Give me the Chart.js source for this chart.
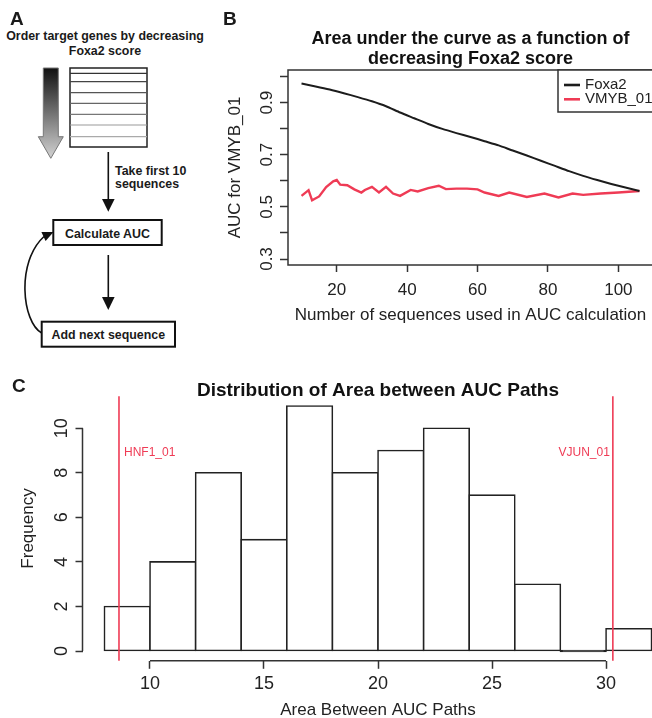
<!DOCTYPE html>
<html>
<head>
<meta charset="utf-8">
<script src="https://cdn.jsdelivr.net/npm/chart.js@4.4.1/dist/chart.umd.min.js"></script>
<style>
  html, body { margin: 0; padding: 0; background: #fff; }
  #wrap { position: relative; width: 652px; height: 718px; overflow: hidden; background: #fff; }
  #panelA { position: absolute; left: 0; top: 0; }
  #chartB { position: absolute; left: 220px; top: 0; }
  #chartC { position: absolute; left: 0; top: 360px; }
  #tags { position: absolute; left: 0; top: 0; pointer-events: none; }
  svg text { font-family: "Liberation Sans", Arial, sans-serif; fill: #1a1a1a; }
</style>
</head>
<body>
<div id="wrap">
  <svg id="panelA" width="220" height="360">
    <defs>
      <linearGradient id="fade" x1="0" y1="0" x2="0" y2="1">
        <stop offset="0" stop-color="#111"/>
        <stop offset="0.7" stop-color="#999"/>
        <stop offset="1" stop-color="#d2d2d2"/>
      </linearGradient>
    </defs>
    <text x="105" y="40" text-anchor="middle" font-size="12.4" font-weight="bold">Order target genes by decreasing</text>
    <text x="105" y="55" text-anchor="middle" font-size="12.4" font-weight="bold">Foxa2 score</text>
    <path d="M43.3 68 H58.3 V136.7 H63.3 L50.8 158.3 L38.3 136.7 H43.3 Z" fill="url(#fade)" stroke="#777" stroke-width="1"/>
    <rect x="70" y="68" width="77" height="79" fill="#fff" stroke="#222" stroke-width="1.5"/>
    <g stroke-width="1.2">
      <line x1="70" x2="147" y1="73.3" y2="73.3" stroke="#333"/>
      <line x1="70" x2="147" y1="81.7" y2="81.7" stroke="#444"/>
      <line x1="70" x2="147" y1="92.7" y2="92.7" stroke="#555"/>
      <line x1="70" x2="147" y1="103.3" y2="103.3" stroke="#666"/>
      <line x1="70" x2="147" y1="114.3" y2="114.3" stroke="#777"/>
      <line x1="70" x2="147" y1="125" y2="125" stroke="#999"/>
      <line x1="70" x2="147" y1="136.7" y2="136.7" stroke="#aaa"/>
    </g>
    <line x1="108.3" x2="108.3" y1="152" y2="200" stroke="#111" stroke-width="1.6"/>
    <polygon points="102,199 114.6,199 108.3,211.7" fill="#111"/>
    <text x="115" y="175" font-size="12.4" font-weight="bold">Take first 10</text>
    <text x="115" y="188" font-size="12.4" font-weight="bold">sequences</text>
    <rect x="53.3" y="220" width="108.4" height="25" fill="#fff" stroke="#111" stroke-width="2"/>
    <text x="107.5" y="237.5" text-anchor="middle" font-size="12.4" font-weight="bold">Calculate AUC</text>
    <line x1="108.3" x2="108.3" y1="255" y2="298" stroke="#111" stroke-width="1.6"/>
    <polygon points="102,297 114.6,297 108.3,310" fill="#111"/>
    <rect x="41.7" y="321.7" width="133.3" height="25" fill="#fff" stroke="#111" stroke-width="2"/>
    <text x="108.3" y="339" text-anchor="middle" font-size="12.4" font-weight="bold">Add next sequence</text>
    <path d="M41.7 333 C22 322, 16 262, 44 236.5" fill="none" stroke="#111" stroke-width="1.6"/>
    <polygon points="53.5,232 45.6,241.1 41.4,232.1" fill="#111"/>
  </svg>

  <canvas id="chartB" width="440" height="340"></canvas>
  <canvas id="chartC" width="700" height="370"></canvas>

  <svg id="tags" width="652" height="718">
    <text x="10" y="25" font-size="19" font-weight="bold">A</text>
    <text x="223" y="25" font-size="19" font-weight="bold">B</text>
    <text x="12" y="392" font-size="19" font-weight="bold">C</text>
  </svg>
</div>

<script>
// panel B: AUC paths
const foxaCounts = [10, 14, 18, 22, 26, 30, 34, 38, 42, 46, 50, 54, 58, 62, 66, 70, 74, 78, 82, 86, 90, 94, 98, 102, 106];
const foxaAuc = [0.973, 0.962, 0.950, 0.936, 0.921, 0.905, 0.886, 0.862, 0.840, 0.818, 0.799, 0.783, 0.768,
                 0.752, 0.736, 0.716, 0.697, 0.677, 0.657, 0.637, 0.619, 0.603, 0.588, 0.574, 0.561];
const vmybCounts = [10, 12, 13, 15, 17, 19, 20, 21, 23, 25, 27, 28, 30, 32, 34, 36, 38, 41, 43, 46, 49, 51,
                    54, 57, 60, 62, 66, 69, 74, 79, 83, 87, 90, 95, 100, 104, 106];
const vmybAuc = [0.542, 0.564, 0.525, 0.540, 0.576, 0.598, 0.603, 0.585, 0.583, 0.567, 0.555, 0.565, 0.577,
                 0.555, 0.577, 0.551, 0.542, 0.565, 0.559, 0.572, 0.581, 0.568, 0.570, 0.570, 0.567, 0.555,
                 0.542, 0.555, 0.538, 0.551, 0.536, 0.551, 0.546, 0.551, 0.555, 0.559, 0.561];
const seriesNames = ['Foxa2', 'VMYB_01'];
const xTicksB = [20, 40, 60, 80, 100];
const yTicksB = [0.3, 0.4, 0.5, 0.6, 0.7, 0.8, 0.9, 1.0];
const yLabelsB = [0.3, 0.5, 0.7, 0.9];

// panel C: histogram of area between AUC paths
const binEdges = [8, 10, 12, 14, 16, 18, 20, 22, 24, 26, 28, 30, 32];
const binCounts = [2, 4, 8, 5, 11, 8, 9, 10, 7, 3, 0, 1];
const xTicksC = [10, 15, 20, 25, 30];
const yTicksC = [0, 2, 4, 6, 8, 10];
const markerNames = ['HNF1_01', 'VJUN_01'];
const markerValues = [8.64, 30.3];

const FONT = '"Liberation Sans", Arial, Helvetica, sans-serif';
const INK = '#222';
const RED = '#ef3b55';
Chart.defaults.font.family = FONT;
Chart.defaults.color = INK;

const setTicks = list => scale => { scale.ticks = list.map(v => ({value: v})); };

// R style decorations: centred title, rotated y labels, axis lines, legend, marker lines
const rDecor = {
  id: 'rDecor',
  afterDraw(chart, args, o) {
    const {ctx, chartArea: a, scales: {x, y}} = chart;
    ctx.save();
    ctx.fillStyle = '#111';
    ctx.font = 'bold ' + o.titleSize + 'px ' + FONT;
    ctx.textAlign = 'center';
    ctx.textBaseline = 'alphabetic';
    o.title.forEach((t, i) => ctx.fillText(t, (a.left + a.right) / 2, o.titleY + i * o.titleGap));

    ctx.strokeStyle = '#333';
    ctx.lineWidth = 1.5;
    if (o.box) {
      ctx.strokeRect(a.left, a.top, a.right - a.left, a.bottom - a.top);
    } else {
      ctx.beginPath();
      ctx.moveTo(a.left, y.getPixelForValue(o.yLabels[0]));
      ctx.lineTo(a.left, y.getPixelForValue(o.yLabels[o.yLabels.length - 1]));
      ctx.moveTo(x.getPixelForValue(o.xLine[0]), a.bottom);
      ctx.lineTo(x.getPixelForValue(o.xLine[1]), a.bottom);
      ctx.stroke();
    }

    ctx.fillStyle = INK;
    ctx.font = o.tickSize + 'px ' + FONT;
    ctx.textBaseline = 'middle';
    o.yLabels.forEach(v => {
      ctx.save();
      ctx.translate(o.yLabelX, y.getPixelForValue(v));
      ctx.rotate(-Math.PI / 2);
      ctx.fillText(String(v), 0, 0);
      ctx.restore();
    });

    if (o.legend) {
      const L = o.legend;
      ctx.fillStyle = '#fff';
      ctx.fillRect(L.left, a.top, a.right - L.left, L.bottom - a.top);
      ctx.strokeRect(L.left, a.top, a.right - L.left + 2, L.bottom - a.top);
      ctx.font = L.size + 'px ' + FONT;
      ctx.textAlign = 'left';
      chart.data.datasets.forEach((ds, i) => {
        const ly = L.firstY + i * L.gap;
        ctx.strokeStyle = ds.borderColor;
        ctx.lineWidth = 2.6;
        ctx.beginPath();
        ctx.moveTo(L.left + 6, ly);
        ctx.lineTo(L.left + 22, ly);
        ctx.stroke();
        ctx.fillStyle = INK;
        ctx.fillText(ds.label, L.left + 27, ly);
      });
    }

    if (o.markers) {
      ctx.strokeStyle = RED;
      ctx.fillStyle = RED;
      ctx.lineWidth = 1.6;
      ctx.font = '12px ' + FONT;
      o.markers.names.forEach((name, i) => {
        const px = x.getPixelForValue(o.markers.values[i]);
        ctx.beginPath();
        ctx.moveTo(px, a.top);
        ctx.lineTo(px, a.bottom);
        ctx.stroke();
        const right = i === o.markers.names.length - 1;
        ctx.textAlign = right ? 'right' : 'left';
        ctx.fillText(name, px + (right ? -3 : 5), y.getPixelForValue(o.markers.labelAt));
      });
    }
    ctx.restore();
  }
};

const tickGrid = len => ({
  offset: false, drawOnChartArea: false, drawTicks: true, tickLength: len,
  tickColor: '#333', tickWidth: 1.5, color: '#333'
});

new Chart(document.getElementById('chartB'), {
  type: 'line',
  data: {
    datasets: [
      {
        label: seriesNames[0],
        data: foxaCounts.map((n, i) => ({x: n, y: foxaAuc[i]})),
        borderColor: '#1c1c1c', borderWidth: 2, pointRadius: 0, tension: 0.2
      },
      {
        label: seriesNames[1],
        data: vmybCounts.map((n, i) => ({x: n, y: vmybAuc[i]})),
        borderColor: RED, borderWidth: 2.4, pointRadius: 0, tension: 0
      }
    ]
  },
  plugins: [rDecor],
  options: {
    responsive: false,
    animation: false,
    events: [],
    layout: {padding: {top: 70, right: 7, left: 0, bottom: 0}},
    plugins: {
      legend: {display: false},
      tooltip: {enabled: false},
      rDecor: {
        title: ['Area under the curve as a function of', 'decreasing Foxa2 score'],
        titleSize: 18, titleY: 44, titleGap: 19.5,
        box: true, yLabels: yLabelsB, yLabelX: 47, tickSize: 17,
        legend: {left: 338, bottom: 112, firstY: 85, gap: 14.3, size: 15}
      }
    },
    scales: {
      x: {
        type: 'linear', min: 6.16, max: 109.84,
        afterBuildTicks: setTicks(xTicksB),
        afterFit: s => { s.height = 75; },
        grid: tickGrid(7),
        border: {display: false},
        ticks: {font: {size: 17}, color: INK, padding: 8, maxRotation: 0},
        title: {display: true, text: 'Number of sequences used in AUC calculation',
                font: {size: 17}, color: INK, padding: {top: 0, bottom: 14}}
      },
      y: {
        type: 'linear', min: 0.277, max: 1.025,
        afterBuildTicks: setTicks(yTicksB),
        afterFit: s => { s.width = 68; },
        grid: tickGrid(8),
        border: {display: false},
        ticks: {display: false},
        title: {display: true, text: 'AUC for VMYB_01', font: {size: 17}, color: INK,
                padding: {top: 4.8, bottom: 0}}
      }
    }
  }
});

new Chart(document.getElementById('chartC'), {
  type: 'bar',
  data: {
    datasets: [{
      label: 'Frequency',
      data: binCounts.map((c, i) => ({x: (binEdges[i] + binEdges[i + 1]) / 2, y: c})),
      backgroundColor: binCounts.map(c => c === 0 ? INK : '#fff'),
      borderColor: INK,
      borderWidth: 1.6,
      borderSkipped: false,
      inflateAmount: 0.8,
      minBarLength: 0.8,
      barPercentage: 1,
      categoryPercentage: 1
    }]
  },
  plugins: [rDecor],
  options: {
    responsive: false,
    animation: false,
    events: [],
    layout: {padding: {top: 36.2, right: 26.5, left: 0, bottom: 0}},
    plugins: {
      legend: {display: false},
      tooltip: {enabled: false},
      rDecor: {
        title: ['Distribution of Area between AUC Paths'],
        titleSize: 19, titleY: 36, titleGap: 0,
        box: false, yLabels: yTicksC, yLabelX: 61.7, tickSize: 18,
        xLine: [xTicksC[0], xTicksC[xTicksC.length - 1]],
        markers: {names: markerNames, values: markerValues, labelAt: 8.9}
      }
    },
    scales: {
      x: {
        type: 'linear', min: 7.04, max: 32.96, offset: false,
        afterBuildTicks: setTicks(xTicksC),
        afterFit: s => { s.height = 69.2; },
        grid: tickGrid(8),
        border: {display: false},
        ticks: {font: {size: 18}, color: INK, padding: 4, maxRotation: 0},
        title: {display: true, text: 'Area Between AUC Paths', font: {size: 17}, color: INK,
                padding: {top: 0, bottom: 9.8}}
      },
      y: {
        type: 'linear', min: -0.44, max: 11.44,
        afterBuildTicks: setTicks(yTicksC),
        afterFit: s => { s.width = 82.5; },
        grid: tickGrid(7),
        border: {display: false},
        ticks: {display: false},
        title: {display: true, text: 'Frequency', font: {size: 17}, color: INK,
                padding: {top: 18, bottom: 0}}
      }
    }
  }
});
</script>
</body>
</html>
